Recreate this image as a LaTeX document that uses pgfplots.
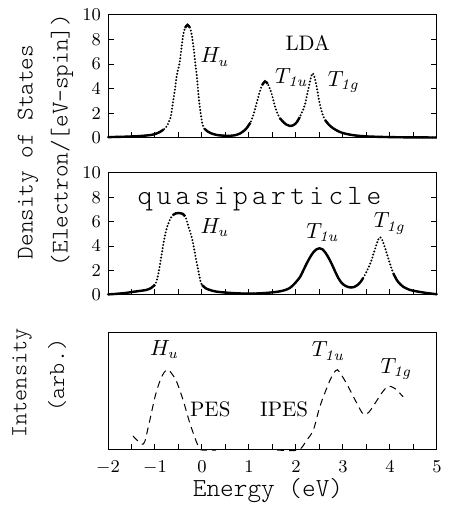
\documentclass[border=0pt]{standalone}
\usepackage{fontspec}
\usepackage{pgfplots}
\pgfplotsset{compat=1.18}
\usepackage{pgfplotstable}

\pgfplotstableread{
x y
-2.0 0.07
-1.8 0.09
-1.6 0.11
-1.4 0.14
-1.25 0.18
-1.1 0.24
-1.0 0.32
-0.9 0.48
-0.82 0.68
-0.75 0.95
-0.70 1.35
-0.66 1.8
-0.61 3.1
-0.57 4.1
-0.54 5.0
-0.50 5.7
-0.47 6.3
-0.43 7.5
-0.40 8.4
-0.36 8.95
-0.31 9.2
-0.26 9.0
-0.22 8.4
-0.18 7.4
-0.15 6.3
-0.11 5.0
-0.064 3.1
-0.028 2.0
0.014 1.06
0.05 0.75
0.13 0.51
0.2 0.37
0.31 0.25
0.45 0.19
0.6 0.18
0.72 0.24
0.8 0.35
0.88 0.55
0.95 0.8
1.03 1.25
1.10 1.95
1.16 2.8
1.22 3.65
1.28 4.3
1.34 4.6
1.40 4.4
1.48 3.63
1.53 2.9
1.59 2.14
1.66 1.6
1.73 1.3
1.80 1.08
1.87 0.98
1.95 1.05
2.02 1.3
2.08 1.7
2.14 2.2
2.19 2.7
2.23 3.4
2.27 4.1
2.31 4.8
2.35 5.26
2.39 5.0
2.44 4.17
2.48 3.3
2.51 2.7
2.56 2.0
2.62 1.46
2.70 1.08
2.79 0.79
2.9 0.55
3.0 0.40
3.15 0.27
3.3 0.19
3.5 0.13
3.8 0.09
4.2 0.06
4.6 0.05
5.0 0.04
}\lda

\pgfplotstableread{
x y
-2.0 0.05
-1.8 0.10
-1.6 0.18
-1.5 0.24
-1.35 0.32
-1.18 0.42
-1.08 0.58
-1.0 0.85
-0.96 1.23
-0.92 1.9
-0.89 2.6
-0.85 3.5
-0.82 4.24
-0.78 5.0
-0.74 5.6
-0.68 6.2
-0.62 6.55
-0.55 6.7
-0.48 6.72
-0.41 6.65
-0.36 6.45
-0.33 6.15
-0.28 5.5
-0.23 4.9
-0.19 4.24
-0.15 3.4
-0.11 2.6
-0.07 1.85
-0.04 1.23
0.0 0.82
0.08 0.55
0.17 0.41
0.3 0.28
0.53 0.19
0.8 0.13
1.0 0.11
1.2 0.13
1.4 0.18
1.55 0.24
1.66 0.30
1.78 0.42
1.87 0.58
1.95 0.85
2.02 1.15
2.09 1.5
2.16 2.05
2.23 2.6
2.30 3.1
2.37 3.5
2.44 3.75
2.50 3.83
2.56 3.75
2.63 3.45
2.70 3.0
2.76 2.55
2.83 1.95
2.90 1.4
2.97 1.0
3.05 0.75
3.15 0.62
3.24 0.66
3.31 0.82
3.38 1.1
3.43 1.4
3.50 1.9
3.56 2.4
3.61 2.87
3.66 3.5
3.71 4.1
3.75 4.55
3.79 4.73
3.83 4.55
3.87 4.15
3.93 3.42
4.00 2.55
4.07 1.78
4.15 1.2
4.22 0.88
4.28 0.68
4.40 0.45
4.52 0.33
4.64 0.25
4.8 0.15
5.0 0.06
}\qp

\pgfplotstableread{
x y
-1.47 0.12
-1.25 0.05
-1.14 0.2
-1.0 0.45
-0.89 0.59
-0.80 0.66
-0.72 0.68
-0.63 0.64
-0.54 0.58
-0.40 0.42
-0.26 0.23
-0.11 0.06
-0.04 0.01
0.0 0.0
0.3 0.0
}\pes

\pgfplotstableread{
x y
1.6 0.0
2.05 0.0
2.23 0.085
2.37 0.17
2.51 0.37
2.69 0.56
2.80 0.65
2.88 0.68
2.96 0.64
3.08 0.56
3.29 0.40
3.40 0.32
3.47 0.30
3.55 0.32
3.64 0.37
3.82 0.48
3.90 0.52
3.96 0.54
4.04 0.535
4.14 0.51
4.28 0.45
}\ipes

\newcommand\lab{\fontsize{10.5}{12}\selectfont}
\newcommand\tl{\ttfamily\fontseries{l}\selectfont}
\newcommand\ks{\kern2.2pt }
\pgfplotsset{
  panel/.style={
    scale only axis, width=164.5pt,
    xmin=-2, xmax=5,
    xtick={-2,...,5}, minor xtick={-1.5,-0.5,...,4.5},
    tick align=inside, major tick length=3pt, minor tick length=3pt,
    xtick pos=bottom,
    axis line style={line width=0.5pt},
    every tick/.style={black, line width=0.5pt},
    every minor tick/.style={black, line width=0.5pt},
    tick label style={font=\fontsize{9.5}{11}\selectfont},
    clip=false,
  },
  dotc/.style={black, line width=1.1pt, line cap=round, dash pattern=on 0pt off 1.6pt, smooth},
  solc/.style={black, line width=1.2pt, smooth},
}

\begin{document}
\begin{tikzpicture}[x=1pt,y=1pt]
\path (0,0) rectangle (221.5,252.5);

% LDA
\begin{axis}[panel, at={(54pt,183.5pt)}, anchor=south west, height=61.5pt,
  ymin=0, ymax=10, ytick={0,2,...,10}, ytick pos=both, yticklabel pos=left, xticklabel=\empty]
\addplot[dotc] table {\lda};
\addplot[solc, restrict x to domain=-2:-0.78] table {\lda};
\addplot[solc, restrict x to domain=-0.37:-0.25] table {\lda};
\addplot[solc, restrict x to domain=0.03:1.05] table {\lda};
\addplot[solc, restrict x to domain=1.27:1.42] table {\lda};
\addplot[solc, restrict x to domain=1.62:2.09] table {\lda};
\addplot[solc, restrict x to domain=2.6:5] table {\lda};
\node[anchor=base west, inner sep=0pt, font=\lab] at (axis cs:-0.04,6.1) {$H_u$};
\node[anchor=base west, inner sep=0pt, font=\lab] at (axis cs:1.77,7.15) {LDA};
\node[anchor=base west, inner sep=0pt, font=\lab] at (axis cs:1.55,4.47) {$T_{\mathit{1u}}$};
\node[anchor=base west, inner sep=0pt, font=\lab] at (axis cs:2.67,4.17) {$T_{\mathit{1g}}$};
\end{axis}

% quasiparticle
\begin{axis}[panel, at={(54pt,105pt)}, anchor=south west, height=61pt,
  ymin=0, ymax=10, ytick={0,2,...,10}, ytick pos=both, yticklabel pos=left, xticklabel=\empty]
\addplot[dotc] table {\qp};
\addplot[solc, restrict x to domain=-2:-1.0] table {\qp};
\addplot[solc, restrict x to domain=-0.63:-0.35] table {\qp};
\addplot[solc, restrict x to domain=0.0:3.44] table {\qp};
\addplot[solc, restrict x to domain=4.07:5] table {\qp};
\node[anchor=base west, inner sep=0pt, font=\tl\fontsize{14}{16}\selectfont] at (axis cs:-1.38,7.45) {q\ks u\ks a\ks s\ks i\ks p\ks a\ks r\ks t\ks i\ks c\ks l\ks e};
\node[anchor=base west, inner sep=0pt, font=\lab] at (axis cs:-0.04,5.05) {$H_u$};
\node[anchor=base west, inner sep=0pt, font=\lab] at (axis cs:2.21,4.67) {$T_{\mathit{1u}}$};
\node[anchor=base west, inner sep=0pt, font=\lab] at (axis cs:3.65,5.5) {$T_{\mathit{1g}}$};
\end{axis}

% spectroscopy
\begin{axis}[panel, at={(54pt,27.5pt)}, anchor=south west, height=59pt,
  ymin=0, ymax=1, ytick=\empty, xticklabel style={yshift=-2pt}]
\addplot[black, line width=0.5pt, dash pattern=on 3.5pt off 2.5pt, smooth] table {\pes};
\addplot[black, line width=0.5pt, dash pattern=on 3.5pt off 2.5pt, smooth] table {\ipes};
\node[anchor=base west, inner sep=0pt, font=\lab] at (axis cs:-1.11,0.80) {$H_u$};
\node[anchor=base west, inner sep=0pt, font=\lab] at (axis cs:-0.26,0.28) {PES};
\node[anchor=base west, inner sep=0pt, font=\lab] at (axis cs:1.23,0.28) {IPES};
\node[anchor=base west, inner sep=0pt, font=\lab] at (axis cs:2.33,0.79) {$T_{\mathit{1u}}$};
\node[anchor=base west, inner sep=0pt, font=\lab] at (axis cs:3.79,0.65) {$T_{\mathit{1g}}$};
\end{axis}

\node[rotate=90, font=\tl\fontsize{12}{14}\selectfont] at (14,176.5) {Density of States};
\node[rotate=90, font=\tl\fontsize{12}{14}\selectfont] at (31,182.5) {(Electron/[eV-spin])};
\node[rotate=90, font=\tl\fontsize{11.5}{13}\selectfont] at (11,61) {Intensity};
\node[rotate=90, font=\tl\fontsize{11.5}{13}\selectfont] at (28.5,65) {(arb.)};
\node[anchor=base, inner sep=0pt, font=\tl\fontsize{13}{15}\selectfont] at (134,4.2) {Energy (eV)};
\end{tikzpicture}
\end{document}
